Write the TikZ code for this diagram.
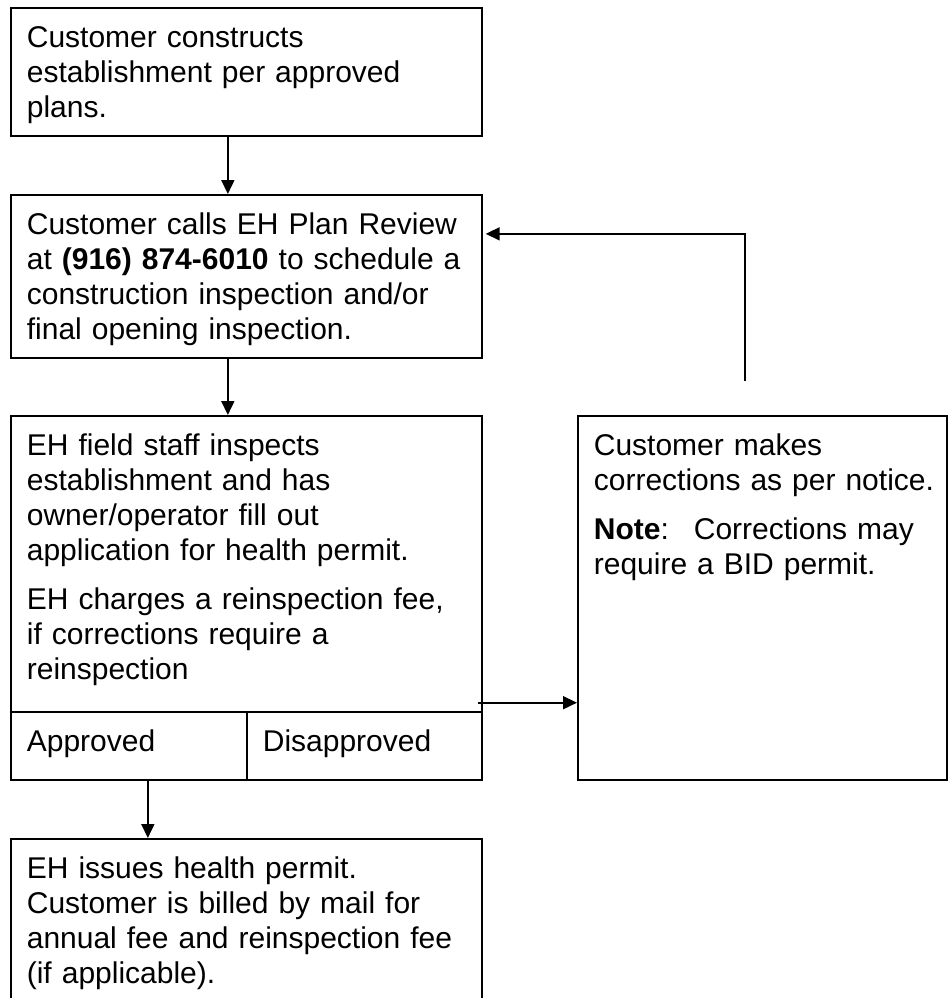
\documentclass[tikz,border=0pt]{standalone}
\usepackage{fontspec}
\setmainfont{Liberation Sans}
\usetikzlibrary{arrows.meta}

\tikzset{
  stage/.style={draw, line width=0.85pt, anchor=north west, inner xsep=8pt, inner ysep=0pt, align=left, text height=20pt, font=\fontsize{15}{17.5}\selectfont},
  flow/.style={line width=0.85pt, -{Triangle[length=7pt, width=6.5pt]}}
}

\begin{document}
\begin{tikzpicture}[x=0.5pt, y=-0.5pt]
    \useasboundingbox (0, 0) rectangle (948, 998);

    \node[stage, text width=219.5pt, text depth=44pt] (build) at (10, 7) {Customer constructs\\ establishment per approved\\ plans.};
    \node[stage, text width=219.5pt, text depth=61.5pt] (call) at (10, 194) {Customer calls EH Plan Review\\ \mbox{at \textbf{(916) 874-6010} to schedule a}\\ construction inspection and/or\\ final opening inspection.};
    \node[stage, text width=219.5pt, text depth=128pt] (inspect) at (10, 415) {EH field staff inspects\\ establishment and has\\ owner/operator fill out\\ application for health permit.\\[7pt] EH charges a reinspection fee,\\ if corrections require a\\ reinspection};
    \node[stage, text width=102pt, text depth=14pt] (ok) at (10, 711) {Approved};
    \node[stage, text width=101.5pt, text depth=14pt] (notok) at (246, 711) {Disapproved};
    \node[stage, text width=168.5pt, text depth=162pt] (fix) at (577, 415) {Customer makes\\ \mbox{corrections as per notice.}\\[7pt] \textbf{Note}:~ Corrections may\\ require a BID permit.};
    \node[stage, text width=219.5pt, text depth=62.5pt] (permit) at (10, 838) {EH issues health permit.\\ Customer is billed by mail for\\ annual fee and reinspection fee\\ (if applicable).};

    \coordinate (back) at (745, 381);
    \coordinate (out) at ([shift={(-2.5pt,5pt)}]inspect.south east);

    \draw[flow] ([xshift=-9.25pt]build.south) -- ([xshift=-9.25pt]call.north);
    \draw[flow] ([xshift=-9.25pt]call.south) -- ([xshift=-9.25pt]inspect.north);
    \draw[flow] ([xshift=9.5pt]ok.south) -- ([xshift=-49.25pt]permit.north);
    \draw[flow] (out) -- (out -| fix.west);
    \draw[flow] (back) |- ([shift={(1.5pt,21.25pt)}]call.east);
\end{tikzpicture}
\end{document}
